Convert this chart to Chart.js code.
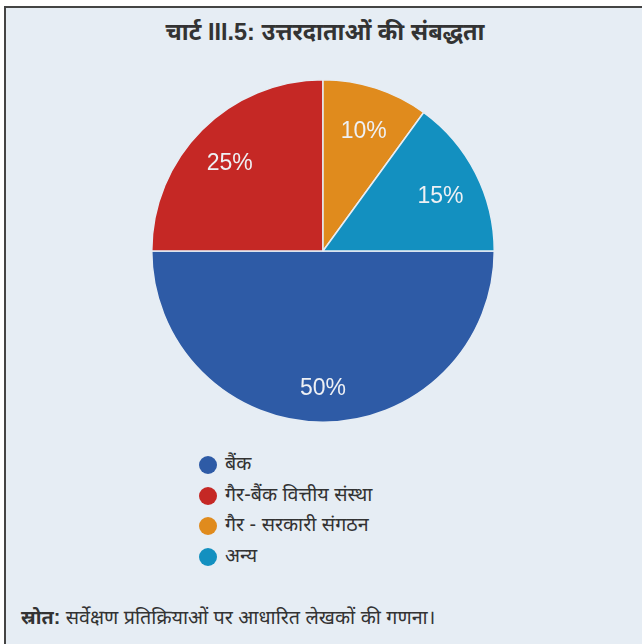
<!DOCTYPE html>
<html>
<head>
<meta charset="utf-8">
<script src="https://cdn.jsdelivr.net/npm/chart.js@4"></script>
<style>
  html, body { margin: 0; padding: 0; background: #fff; }
  body { width: 642px; height: 644px; position: relative; overflow: hidden;
         font-family: "Liberation Sans", "Noto Sans Devanagari", "Noto Sans", sans-serif; color: #333; }
  .panel { position: absolute; left: 4px; top: 6px; width: 660px; height: 660px;
           background: #e6edf4; border-left: 2px solid #444; border-top: 2px solid #444; }
  .title { position: absolute; left: 0; top: 19px; width: 650px; text-align: center;
           font-weight: bold; font-size: 23.5px; }
  .pie { position: absolute; left: 151px; top: 79px; width: 344px; height: 344px; }
  .legend { position: absolute; left: 199px; top: 450px; }
  .legend div { height: 30.5px; display: flex; align-items: center; font-size: 19.7px; }
  .legend span { width: 18px; height: 18px; border-radius: 50%; margin-right: 8px; display: inline-block; }
  .source { position: absolute; left: 21px; top: 606px; font-size: 19.7px; }
  .source b { font-weight: bold; }
</style>
</head>
<body>
<div class="panel"></div>
<div class="title">चार्ट III.5: उत्तरदाताओं की संबद्धता</div>
<div class="pie"><canvas id="myChart"></canvas></div>
<div class="legend" id="legend"></div>
<div class="source"><b>स्रोत:</b> सर्वेक्षण प्रतिक्रियाओं पर आधारित लेखकों की गणना।</div>
<script>
// respondent affiliation, in percent
const categories = ['बैंक', 'गैर-बैंक वित्तीय संस्था', 'गैर - सरकारी संगठन', 'अन्य'];
const shares = [50, 25, 10, 15];
const colors = ['#2e5ba6', '#c52825', '#e08b1d', '#1390c0'];

// percent labels inside each slice
const sliceLabels = {
    id: 'sliceLabels',
    afterDatasetsDraw(chart) {
        const ctx = chart.ctx;
        const meta = chart.getDatasetMeta(0);
        ctx.save();
        ctx.font = '23px "Liberation Sans", Arial, sans-serif';
        ctx.fillStyle = '#eef0f4';
        ctx.textAlign = 'center';
        ctx.textBaseline = 'middle';
        meta.data.forEach((arc, i) => {
            const p = arc.getProps(['x', 'y', 'startAngle', 'endAngle', 'outerRadius'], true);
            const mid = (p.startAngle + p.endAngle) / 2;
            const r = p.outerRadius * 0.77;
            ctx.fillText(shares[i] + '%', p.x + Math.cos(mid) * r, p.y + Math.sin(mid) * r + 6);
        });
        ctx.restore();
    }
};

const makeChart = () => {
    const data = {
        labels: categories,
        datasets: [{
            data: shares,
            backgroundColor: colors,
            borderColor: '#e6edf4',
            borderWidth: 1.5,
        }]
    };
    const config = {
        type: 'pie',
        data,
        options: {
            responsive: true,
            maintainAspectRatio: false,
            animation: false,
            rotation: 90,
            plugins: {
                legend: { display: false },
                tooltip: { enabled: false },
            }
        },
        plugins: [sliceLabels]
    };
    new Chart('myChart', config);

    // legend list under the pie
    const legend = document.getElementById('legend');
    categories.forEach((name, i) => {
        const row = document.createElement('div');
        const dot = document.createElement('span');
        dot.style.background = colors[i];
        row.appendChild(dot);
        row.appendChild(document.createTextNode(name));
        legend.appendChild(row);
    });
};

makeChart();
</script>
</body>
</html>
